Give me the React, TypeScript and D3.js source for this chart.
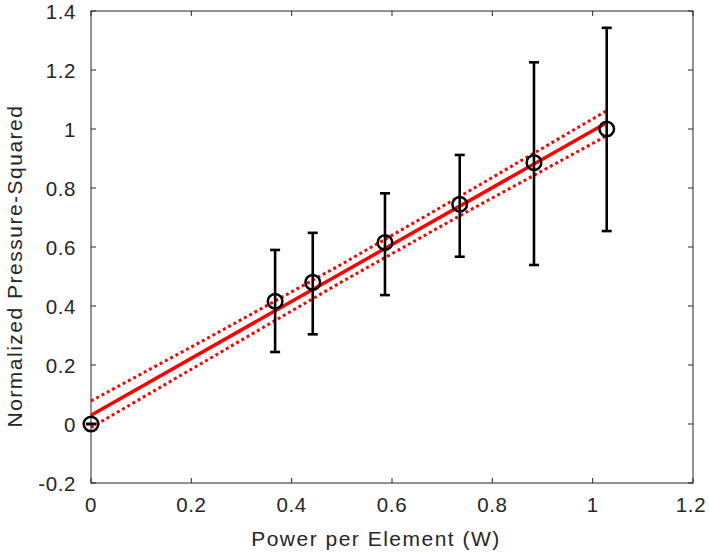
import React from "react";
import * as d3 from "d3";

const xValues = [0, 0.367, 0.442, 0.586, 0.735, 0.883, 1.028];
const yValues = [0, 0.416, 0.48, 0.615, 0.745, 0.886, 1.0];
const errLow = [0, 0.244, 0.304, 0.437, 0.567, 0.539, 0.654];
const errHigh = [0, 0.59, 0.648, 0.782, 0.912, 1.226, 1.343];

const fitX = [0, 1.028];
const fitY = [0.03, 1.021];

const bandX = [0, 0.25, 0.5, 0.75, 1.028];
const bandUpper = [0.078, 0.307, 0.542, 0.786, 1.062];
const bandLower = [-0.012, 0.235, 0.482, 0.72, 0.977];

const xTicks = [0, 0.2, 0.4, 0.6, 0.8, 1, 1.2];
const yTicks = [-0.2, 0, 0.2, 0.4, 0.6, 0.8, 1, 1.2, 1.4];

const W = 709, H = 554;
const L = 91, R = 693, T = 11, B = 483;
const font = "'Liberation Sans', Arial, Helvetica, sans-serif";
const axisColor = "#262626";
const fs = 21;
const ls = 1.5;
const tfs = 20.5;
const tls = 0.6;

export default function App() {
  const x = d3.scaleLinear().domain([0, 1.2]).range([L, R]);
  const y = d3.scaleLinear().domain([-0.2, 1.4]).range([B, T]);
  const line = d3.line<[number, number]>().x(d => x(d[0])).y(d => y(d[1]));
  const fit = line(fitX.map((v, i) => [v, fitY[i]]) as [number, number][]) || "";
  const up = line(bandX.map((v, i) => [v, bandUpper[i]]) as [number, number][]) || "";
  const lo = line(bandX.map((v, i) => [v, bandLower[i]]) as [number, number][]) || "";
  const tk = 5;
  return (
    <svg width={W} height={H} style={{ position: "absolute", left: 0, top: 0, background: "#fff" }}>
      <rect x={0} y={0} width={W} height={H} fill="#fff" />
      {xTicks.map((t, i) => (
        <g key={"xt" + i}>
          <line x1={x(t)} x2={x(t)} y1={B} y2={B - tk} stroke={axisColor} strokeWidth={1} />
          <line x1={x(t)} x2={x(t)} y1={T} y2={T + tk} stroke={axisColor} strokeWidth={1} />
          <text x={i === xTicks.length - 1 ? x(t) - 2 : x(t)} y={512} textAnchor="middle" fontFamily={font} fontSize={tfs} letterSpacing={tls} fill={axisColor}>{String(t)}</text>
        </g>
      ))}
      {yTicks.map((t, i) => (
        <g key={"yt" + i}>
          <line x1={L} x2={L + tk} y1={y(t)} y2={y(t)} stroke={axisColor} strokeWidth={1} />
          <line x1={R} x2={R - tk} y1={y(t)} y2={y(t)} stroke={axisColor} strokeWidth={1} />
          <text x={76} y={y(t) + 8} textAnchor="end" fontFamily={font} fontSize={tfs} letterSpacing={tls} fill={axisColor}>{String(t)}</text>
        </g>
      ))}
      <rect x={L} y={T} width={R - L} height={B - T} fill="none" stroke={axisColor} strokeWidth={1} />
      <path d={up} fill="none" stroke="#ff0000" strokeWidth={3} strokeDasharray="3,3" />
      <path d={lo} fill="none" stroke="#ff0000" strokeWidth={3} strokeDasharray="3,3" />
      <path d={fit} fill="none" stroke="#ff0000" strokeWidth={3.5} />
      {xValues.map((xv, i) => (
        <g key={"e" + i} stroke="#000" strokeWidth={2.6}>
          <line x1={x(xv)} x2={x(xv)} y1={y(errLow[i])} y2={y(errHigh[i])} />
          <line x1={x(xv) - 5} x2={x(xv) + 5} y1={y(errLow[i])} y2={y(errLow[i])} />
          <line x1={x(xv) - 5} x2={x(xv) + 5} y1={y(errHigh[i])} y2={y(errHigh[i])} />
        </g>
      ))}
      {xValues.map((xv, i) => (
        <circle key={"c" + i} cx={x(xv)} cy={y(yValues[i])} r={7.3} fill="none" stroke="#000" strokeWidth={2.5} />
      ))}
      <text x={376} y={546} textAnchor="middle" fontFamily={font} fontSize={fs} letterSpacing={ls} fill={axisColor}>Power per Element (W)</text>
      <text transform={`translate(22,266) rotate(-90)`} textAnchor="middle" fontFamily={font} fontSize={fs} letterSpacing={ls} fill={axisColor}>Normalized Pressure-Squared</text>
    </svg>
  );
}
